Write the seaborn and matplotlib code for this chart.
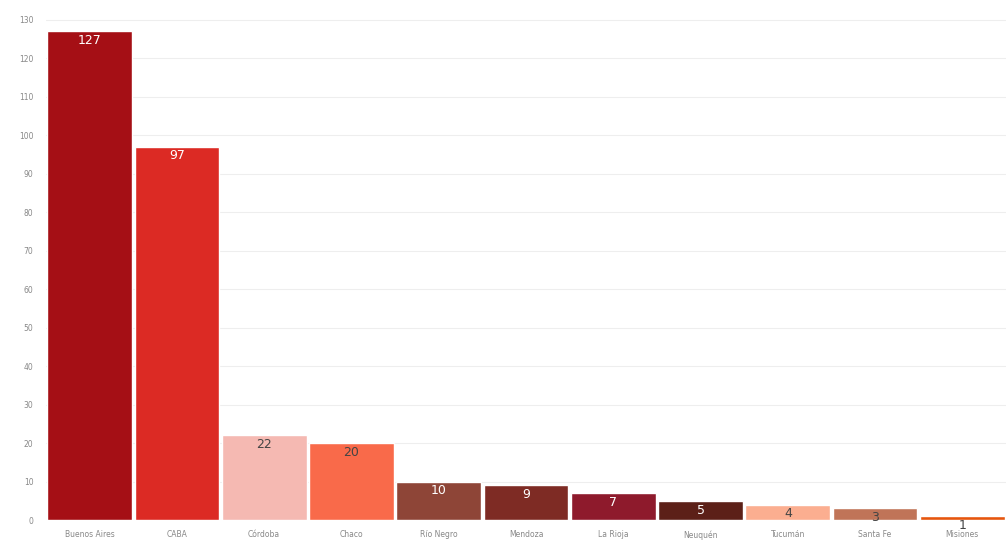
import matplotlib
matplotlib.use("Agg")
import matplotlib.pyplot as plt
import seaborn as sns
import pandas as pd

provincias = ["Buenos Aires", "CABA", "Córdoba", "Chaco", "Río Negro", "Mendoza",
              "La Rioja", "Neuquén", "Tucumán", "Santa Fe", "Misiones"]
casos = [127, 97, 22, 20, 10, 9, 7, 5, 4, 3, 1]
colores = ["#a50f15", "#dc2a24", "#f5b9b2", "#f96a4a", "#8e4537", "#7e2b24",
           "#8e1a2c", "#5c2018", "#fbae90", "#c07458", "#e6550d"]
color_texto = ["white", "white", "#444444", "#444444", "white", "white",
               "white", "white", "#444444", "#444444", "#444444"]
yticks = list(range(0, 131, 10))

df = pd.DataFrame({"provincia": provincias, "casos": casos})

sns.set_theme(style="white")
fig = plt.figure(figsize=(10.06, 5.41), dpi=100)
ax = fig.add_axes([46 / 1006, 21 / 541, 960 / 1006, 510 / 541])

sns.barplot(data=df, x="provincia", y="casos", hue="provincia", palette=colores,
            legend=False, width=0.97, saturation=1, ax=ax)

ax.set_ylim(0, 132.5)
ax.set_xlim(-0.5, len(provincias) - 0.5)
ax.set_yticks(yticks)
ax.yaxis.grid(True, color="#eeeeee", linewidth=0.8)
ax.set_axisbelow(True)
for s in ax.spines.values():
    s.set_visible(False)
ax.tick_params(axis="y", length=0, labelsize=5.5, labelcolor="#888888", pad=9)
ax.tick_params(axis="x", length=0, labelsize=5.5, labelcolor="#888888", pad=7.5)
ax.set_xlabel("")
ax.set_ylabel("")

for i, (v, c) in enumerate(zip(casos, color_texto)):
    ax.annotate(str(v), xy=(i, v), xytext=(0, -2), textcoords="offset points",
                ha="center", va="top", fontsize=9, color=c)

fig.savefig("out.png", dpi=100)
